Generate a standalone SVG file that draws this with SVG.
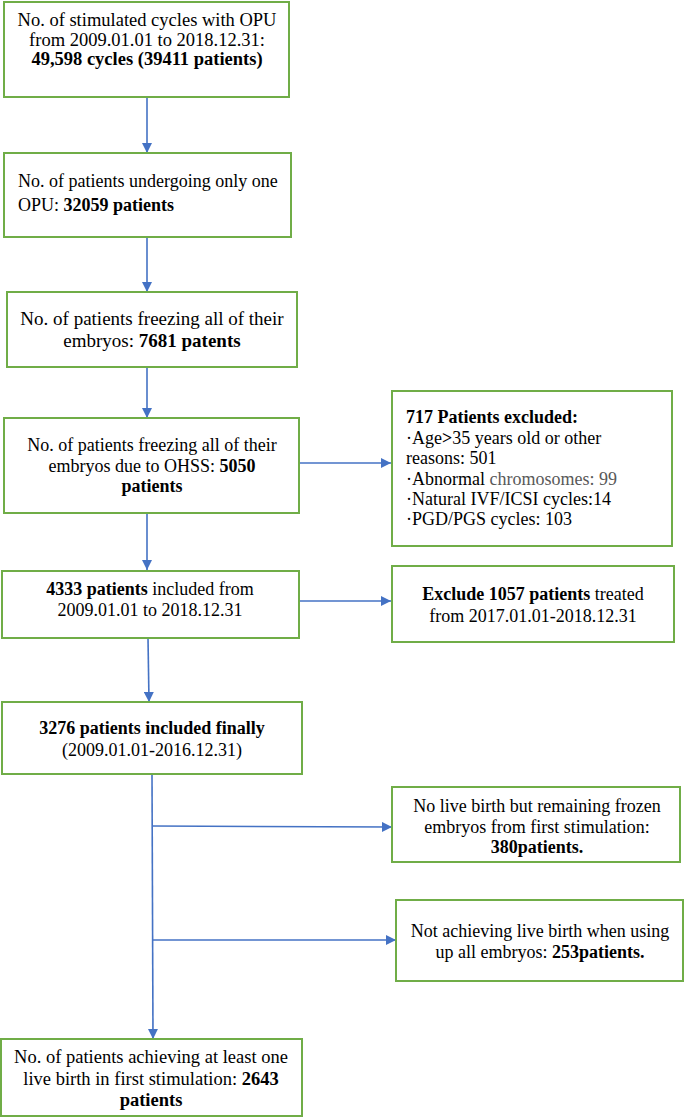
<svg xmlns="http://www.w3.org/2000/svg" width="685" height="1118" viewBox="0 0 685 1118">
<defs>
<marker id="ah" viewBox="0 0 10 10" refX="10" refY="5" markerWidth="10" markerHeight="10" markerUnits="userSpaceOnUse" orient="auto">
<path d="M0,0 L10,5 L0,10 z" fill="#4472c4"/>
</marker>
<style>
.box{fill:#ffffff;stroke:#70ad47;stroke-width:2}
text{font-family:"Liberation Serif","Times New Roman",serif;font-size:18px;fill:#000}
.c{text-anchor:middle}
.b{font-weight:bold}
.g{fill:#595959}
.l{font-size:18.5px}
.xl{font-size:19px}
.con{stroke:#4472c4;stroke-width:1.6;fill:none}
</style>
</defs>
<rect width="685" height="1118" fill="#ffffff"/>
<g id="connectors">
<line class="con" x1="147" y1="97" x2="147" y2="153" marker-end="url(#ah)"/>
<line class="con" x1="147" y1="237" x2="147" y2="292" marker-end="url(#ah)"/>
<line class="con" x1="147" y1="367" x2="147" y2="418" marker-end="url(#ah)"/>
<line class="con" x1="299" y1="463" x2="391" y2="463" marker-end="url(#ah)"/>
<line class="con" x1="147" y1="513" x2="147" y2="570" marker-end="url(#ah)"/>
<line class="con" x1="299" y1="601" x2="391" y2="601" marker-end="url(#ah)"/>
<line class="con" x1="148" y1="638" x2="149" y2="702" marker-end="url(#ah)"/>
<line class="con" x1="152" y1="774" x2="153" y2="1039" marker-end="url(#ah)"/>
<line class="con" x1="152" y1="826" x2="392" y2="827" marker-end="url(#ah)"/>
<line class="con" x1="153" y1="940" x2="396" y2="940" marker-end="url(#ah)"/>
</g>
<g id="n1">
<rect class="box" x="4" y="2" width="285" height="95"/>
<text class="c l" x="147" y="26">No. of stimulated cycles with OPU</text>
<text class="c l" x="147" y="46">from 2009.01.01 to 2018.12.31:</text>
<text class="c b l" x="147" y="65">49,598 cycles (39411 patients)</text>
</g>
<g id="n2">
<rect class="box" x="4" y="153" width="287" height="84"/>
<text x="18" y="187">No. of patients undergoing only one</text>
<text x="18" y="211">OPU: <tspan class="b">32059 patients</tspan></text>
</g>
<g id="n3">
<rect class="box" x="7" y="292" width="290" height="75"/>
<text class="c xl" x="152" y="325">No. of patients freezing all of their</text>
<text class="c xl" x="152" y="347">embryos: <tspan class="b">7681 patents</tspan></text>
</g>
<g id="n4">
<rect class="box" x="4" y="418" width="295" height="95"/>
<text class="c" x="152" y="451">No. of patients freezing all of their</text>
<text class="c" x="152" y="472">embryos due to OHSS: <tspan class="b">5050</tspan></text>
<text class="c b" x="152" y="492">patients</text>
</g>
<g id="s1">
<rect class="box" x="392" y="391" width="280" height="155"/>
<text class="b" x="406" y="423">717 Patients excluded:</text>
<text x="406" y="444">·Age<tspan class="b">&gt;</tspan>35 years old or other</text>
<text x="406" y="464">reasons: 501</text>
<text x="406" y="485">·Abnormal <tspan class="g">chromosomes: 99</tspan></text>
<text x="406" y="505">·Natural IVF/ICSI cycles:14</text>
<text x="406" y="525">·PGD/PGS cycles: 103</text>
</g>
<g id="n5">
<rect class="box" x="2" y="571" width="297" height="67"/>
<text class="c" x="150" y="595"><tspan class="b">4333 patients</tspan> included from</text>
<text class="c" x="150" y="616">2009.01.01 to 2018.12.31</text>
</g>
<g id="s2">
<rect class="box" x="392" y="566" width="282" height="76"/>
<text class="c" x="533" y="600"><tspan class="b">Exclude 1057 patients</tspan> treated</text>
<text class="c" x="533" y="622">from 2017.01.01-2018.12.31</text>
</g>
<g id="n6">
<rect class="box" x="2" y="702" width="300" height="72"/>
<text class="c b" x="152" y="734">3276 patients included finally</text>
<text class="c" x="152" y="756">(2009.01.01-2016.12.31)</text>
</g>
<g id="s3">
<rect class="box" x="392" y="787" width="288" height="75"/>
<text class="c" x="537" y="812">No live birth but remaining frozen</text>
<text class="c" x="537" y="833">embryos from first stimulation:</text>
<text class="c b" x="537" y="853">380patients.</text>
</g>
<g id="s4">
<rect class="box" x="396" y="900" width="287" height="81"/>
<text class="c" x="540" y="937">Not achieving live birth when using</text>
<text class="c" x="540" y="958">up all embryos: <tspan class="b">253patients.</tspan></text>
</g>
<g id="n7">
<rect class="box" x="1" y="1039" width="301" height="77"/>
<text class="c l" x="151" y="1063">No. of patients achieving at least one</text>
<text class="c l" x="151" y="1085">live birth in first stimulation: <tspan class="b">2643</tspan></text>
<text class="c b l" x="151" y="1106">patients</text>
</g>
</svg>
